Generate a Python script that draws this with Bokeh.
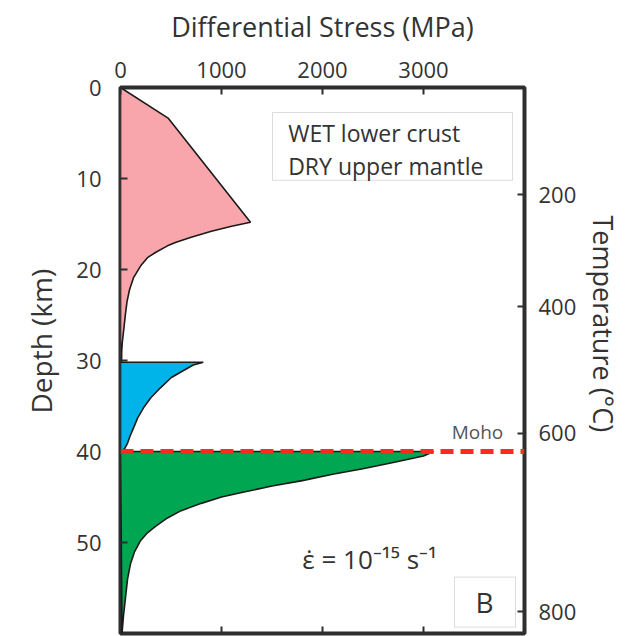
from math import pi
from bokeh.plotting import figure
from bokeh.models import Range1d, LinearAxis, FixedTicker, BoxAnnotation, Span, Label, Title
from bokeh.embed import file_html
from bokeh.resources import INLINE

# ---- data ----
pink_stress = [0, 475, 1287, 1100, 900, 700, 550, 465, 350, 267, 200, 129, 90, 65, 50, 35, 20, 8, 0]
pink_depth = [0, 3.4, 14.8, 15.25, 15.8, 16.45, 17.0, 17.4, 18.1, 18.7, 19.6, 20.9, 22.2, 23.5, 24.8, 26.3, 27.8, 29.0, 30.0]

blue_stress = [0, 820, 720, 624, 500, 396, 300, 228, 170, 129, 95, 69, 40, 0]
blue_depth = [30.2, 30.2, 30.5, 31.1, 31.9, 33.0, 34.1, 35.2, 36.3, 37.4, 38.3, 39.1, 39.7, 40.0]

green_stress = [0, 3100, 3000, 2700, 2400, 2100, 1800, 1500, 1200, 1000, 800, 600, 465, 350, 260, 198, 140, 100, 70, 50, 30, 15]
green_depth = [40.0, 40.0, 40.5, 41.2, 41.9, 42.5, 43.2, 43.8, 44.5, 45.0, 45.7, 46.5, 47.3, 48.2, 49.0, 49.8, 51.0, 52.3, 54.0, 56.0, 58.0, 60.0]

moho_depth = 40
depth_max = 60
stress_ticks = [0, 1000, 2000, 3000]
depth_ticks = [0, 10, 20, 30, 40, 50]
temp_labels = ["200", "400", "600", "800"]
temp_depths = [11.76, 24.07, 38.0, 57.6]

FONT = "Open Sans"
DARK = "#2e2e2e"
TXT = "#333333"

p = figure(output_backend="svg", toolbar_location=None,
           frame_width=404, frame_height=546,
           x_range=Range1d(0, 4000), y_range=Range1d(depth_max, 0),
           x_axis_location="above",
           min_border_left=120, min_border_top=87, min_border_bottom=3, min_border_right=0)
p.background_fill_color = "white"
p.border_fill_color = "white"
p.grid.visible = False
p.outline_line_color = DARK
p.outline_line_width = 4

xa = p.xaxis[0]
xa.ticker = FixedTicker(ticks=stress_ticks)
xa.axis_label = "Differential Stress (MPa)"

ya = p.yaxis[0]
ya.ticker = FixedTicker(ticks=depth_ticks)

ra = LinearAxis(ticker=FixedTicker(ticks=temp_depths),
                major_label_overrides={d: t for d, t in zip(temp_depths, temp_labels)})
p.add_layout(ra, "right")

for ax in [xa, ya, ra]:
    ax.axis_line_alpha = 0
    ax.major_tick_in = 7
    ax.major_tick_out = 0
    ax.minor_tick_line_alpha = 0
    ax.major_tick_line_color = DARK
    ax.major_tick_line_width = 2
    ax.major_label_text_font = FONT
    ax.major_label_text_font_size = "22px"
    ax.major_label_text_color = TXT

xa.axis_label_text_font = FONT
xa.axis_label_text_font_size = "27px"
xa.axis_label_text_font_style = "normal"
xa.axis_label_text_color = TXT
xa.major_label_standoff = 10
xa.axis_label_standoff = 14
ya.major_label_standoff = 19
ra.major_label_standoff = 14

# side axis titles (as side titles so they can sit off-centre like the reference)
p.add_layout(Title(text="Depth (km)", align="left", offset=220, standoff=28,
                   text_font=FONT, text_font_size="28px", text_font_style="normal",
                   text_color=TXT), "left")
p.add_layout(Title(text="Temperature (°C)", align="left", offset=128, standoff=10,
                   text_font=FONT, text_font_size="27px", text_font_style="normal",
                   text_color=TXT), "right")

# bottom frame ticks (inward)
p.scatter(x=stress_ticks[1:], y=[depth_max] * 3, marker="dash", angle=pi / 2,
          size=14, line_color=DARK, line_width=2)

# fills
p.patch(pink_stress, pink_depth, fill_color="#f8a5ab", line_color="#1a1a1a", line_width=1.6)
p.patch(blue_stress, blue_depth, fill_color="#00b4ea", line_color="#1a1a1a", line_width=1.6)
p.patch(green_stress, green_depth, fill_color="#00a651", line_color="#1a1a1a", line_width=1.6)

# Moho
p.add_layout(Span(location=moho_depth, dimension="width", line_color="#ff2b1c",
                  line_width=5, line_dash="13 7"))
p.add_layout(Label(x=3790, y=37.9, text="Moho", text_font=FONT, text_font_size="19px",
                   text_color="#555555", text_align="right", text_baseline="middle"))

# legend box
p.add_layout(BoxAnnotation(left=1505, right=3881, top=2.75, bottom=10.2,
                           fill_color="white", fill_alpha=1,
                           line_color="#8a8a8a", line_width=1))
p.add_layout(Label(x=1660, y=5.0, text="WET lower crust", text_font=FONT,
                   text_font_size="23px", text_color=TXT, text_baseline="middle"))
p.add_layout(Label(x=1660, y=8.6, text="DRY upper mantle", text_font=FONT,
                   text_font_size="23px", text_color=TXT, text_baseline="middle"))

# strain rate
p.add_layout(Label(x=1800, y=51.8, text="ε̇ = 10⁻¹⁵ s⁻¹", text_font=FONT,
                   text_font_size="26px", text_color=TXT, text_baseline="middle"))

# B box
p.add_layout(BoxAnnotation(left=3307, right=3911, top=53.8, bottom=59.3,
                           fill_color="white", fill_alpha=1,
                           line_color="#8a8a8a", line_width=1))
p.add_layout(Label(x=3604, y=56.5, text="B", text_font=FONT, text_font_size="28px",
                   text_color=TXT, text_align="center", text_baseline="middle"))

open("out.html", "w").write(file_html(p, INLINE))
